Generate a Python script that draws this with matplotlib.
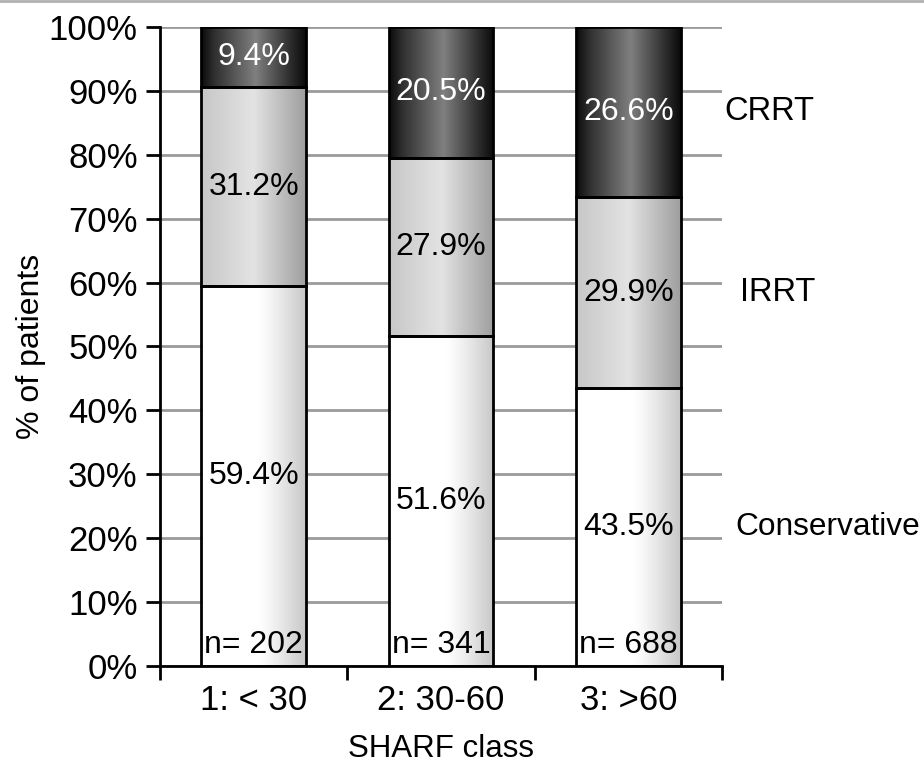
import matplotlib
matplotlib.use("Agg")
import matplotlib.pyplot as plt
import numpy as np
from matplotlib.lines import Line2D

plt.rcParams['font.family'] = ['Liberation Sans', 'DejaVu Sans']

categories = ["1: < 30", "2: 30-60", "3: >60"]
conservative = [59.4, 51.6, 43.5]
irrt = [31.2, 27.9, 29.9]
crrt = [9.4, 20.5, 26.6]
n_labels = ["n= 202", "n= 341", "n= 688"]
series_names = ["Conservative", "IRRT", "CRRT"]
yticks = [0, 10, 20, 30, 40, 50, 60, 70, 80, 90, 100]

fig = plt.figure(figsize=(9.24, 7.72), dpi=100)
ax = fig.add_axes([160/924, 1-666/772, (722-160)/924, (666-27)/772])

x = np.arange(len(categories))
width = 0.56

# gradient profiles (horizontal) for each series
t = np.linspace(0, 1, 200)
def prof_white(t):
    return np.where(t < 0.55, 1.0, 1.0 - 0.22 * ((t - 0.55) / 0.45) ** 1.2)
def prof_light(t):
    return np.interp(t, [0, 0.5, 1.0], [0.78, 0.89, 0.62])
def prof_dark(t):
    return np.interp(t, [0, 0.12, 0.52, 0.85, 1.0], [0.04, 0.18, 0.50, 0.18, 0.04])
profiles = [prof_white, prof_light, prof_dark]

bottoms = np.zeros(len(categories))
all_series = [conservative, irrt, crrt]
text_colors = ['black', 'black', 'white']
for vals, prof, tc in zip(all_series, profiles, text_colors):
    bars = ax.bar(x, vals, width, bottom=bottoms, facecolor='none',
                  edgecolor='black', linewidth=2, zorder=3)
    for b, v, bt in zip(bars, vals, bottoms):
        x0, y0 = b.get_x(), b.get_y()
        w, h = b.get_width(), b.get_height()
        g = prof(t)
        img = np.stack([g, g, g], axis=-1)[None, :, :]
        ax.imshow(img, extent=[x0, x0 + w, y0, y0 + h], aspect='auto',
                  zorder=2, interpolation='bilinear')
        ax.text(x0 + w / 2, y0 + h / 2, f"{v:.1f}%", ha='center', va='center',
                fontsize=23, color=tc, zorder=4)
    bottoms = bottoms + np.array(vals)

for xi, nl in zip(x, n_labels):
    ax.text(xi, 3.3, nl, ha='center', va='center', fontsize=23, zorder=4)

ax.set_xlim(-0.5, len(categories) - 0.5)
ax.set_ylim(0, 100)
ax.set_yticks(yticks)
ax.set_yticklabels([f"{v}%" for v in yticks], fontsize=25)
ax.yaxis.grid(True, color='#9a9a9a', linewidth=2, zorder=0)
ax.set_axisbelow(True)

ax.set_xticks(x)
ax.set_xticklabels(categories, fontsize=25)
ax.set_xticks(np.arange(len(categories) + 1) - 0.5, minor=True)
ax.tick_params(axis='x', which='major', length=0, pad=13)
ax.tick_params(axis='x', which='minor', length=10, width=2, direction='out')
ax.tick_params(axis='y', length=10, width=2, direction='out', pad=6)

for s in ['top', 'right']:
    ax.spines[s].set_visible(False)
ax.spines['left'].set_linewidth(2)
ax.spines['bottom'].set_linewidth(2)

ax.set_xlabel("SHARF class", fontsize=22.5, labelpad=12)
ax.set_ylabel("% of patients", fontsize=23, labelpad=2)

# series labels on the right
label_pos = {"CRRT": (724, 86.7), "IRRT": (740, 58.4), "Conservative": (735, 21.8)}
for name in series_names:
    px, yv = label_pos[name]
    fs = 22.8 if name == "Conservative" else 23.5
    ax.text((px - 160) / (722 - 160), yv, name, transform=ax.get_yaxis_transform(),
            ha='left', va='center', fontsize=fs, clip_on=False)

# thin gray line at the very top of the figure
fig.add_artist(Line2D([0, 1], [0.999, 0.999], color='#b0b0b0', linewidth=2,
                      transform=fig.transFigure))

fig.savefig("out.png", dpi=100)
